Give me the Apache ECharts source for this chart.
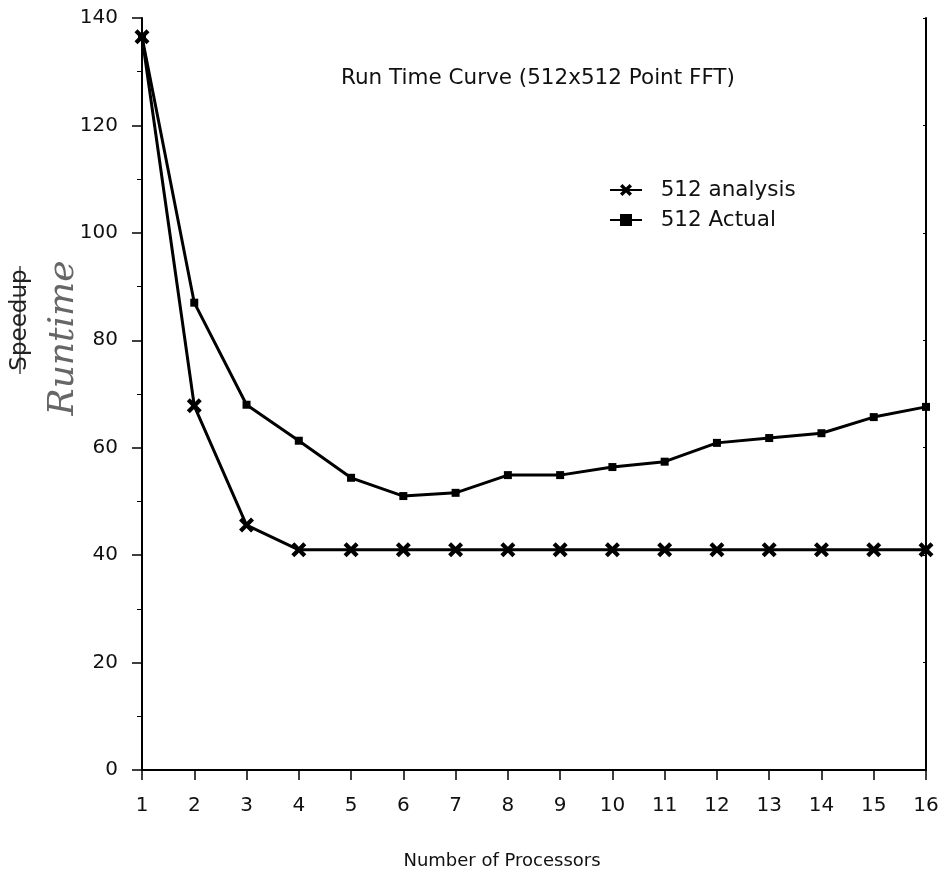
<!DOCTYPE html>
<html>
<head>
<meta charset="utf-8">
<title>Run Time Curve</title>
<script src="https://cdn.jsdelivr.net/npm/echarts@6/dist/echarts.min.js"></script>
<style>
  html, body { margin: 0; padding: 0; background: #fff; }
  #main { width: 945px; height: 890px; }
</style>
</head>
<body>
<div id="main"></div>
<script>
// number of processors
var processors = ['1','2','3','4','5','6','7','8','9','10','11','12','13','14','15','16'];
// run times
var analysis512 = [136.5, 67.8, 45.6, 41, 41, 41, 41, 41, 41, 41, 41, 41, 41, 41, 41, 41];
var actual512   = [136.5, 87, 68, 61.3, 54.4, 51, 51.6, 54.9, 54.9, 56.4, 57.4, 60.9, 61.8, 62.7, 65.7, 67.6];
var yTicks = { min: 0, max: 140, step: 20 };

var font = '"DejaVu Sans", Verdana, sans-serif';
var crossPath = 'path://M0,2 L2,0 L5,3 L8,0 L10,2 L7,5 L10,8 L8,10 L5,7 L2,10 L0,8 L3,5 Z';

var chart = echarts.init(document.getElementById('main'));
var option = {
    animation: false,
    backgroundColor: '#fff',
    title: {
        text: 'Run Time Curve (512x512 Point FFT)',
        left: 336, top: 62,
        textStyle: { fontFamily: font, fontSize: 21.5, fontWeight: 'normal', color: '#111' }
    },
    legend: {
        left: 604, top: 174,
        orient: 'vertical',
        itemWidth: 32, itemHeight: 15, itemGap: 8,
        formatter: '  {name}',
        textStyle: { fontFamily: font, fontSize: 21.5, color: '#111' },
        data: ['512 analysis', '512 Actual']
    },
    grid: { left: 142, right: 19, top: 18, bottom: 120 },
    xAxis: [{
        type: 'category',
        data: processors,
        boundaryGap: false,
        name: 'Number of Processors',
        nameLocation: 'middle',
        nameGap: 82,
        nameTextStyle: { fontFamily: font, fontSize: 18, color: '#111', padding: [0, 64, 0, 0] },
        axisLine: { lineStyle: { color: '#000', width: 2 } },
        axisTick: { show: true, length: 10, inside: false, lineStyle: { color: '#000', width: 1.5 } },
        axisLabel: { fontFamily: font, fontSize: 20, color: '#111', margin: 26, interval: 0 },
        splitLine: { show: false }
    }, {
        type: 'category',
        data: processors,
        boundaryGap: false,
        position: 'top',
        axisLine: { lineStyle: { color: '#000', width: 2 } },
        axisTick: { show: false },
        axisLabel: { show: false },
        splitLine: { show: false }
    }],
    yAxis: [{
        type: 'value',
        min: yTicks.min, max: yTicks.max, interval: yTicks.step,
        axisLine: { show: true, lineStyle: { color: '#000', width: 2 } },
        axisTick: { show: true, length: 10, lineStyle: { color: '#000', width: 1.5 } },
        minorTick: { show: true, splitNumber: 2, length: 5, lineStyle: { color: '#000', width: 1 } },
        axisLabel: { fontFamily: font, fontSize: 20, color: '#111', margin: 24 },
        splitLine: { show: false }
    }, {
        type: 'value',
        min: yTicks.min, max: yTicks.max, interval: yTicks.step,
        position: 'right',
        axisLine: { show: true, lineStyle: { color: '#000', width: 2 } },
        axisTick: { show: true, inside: true, length: 3, lineStyle: { color: '#000' } },
        axisLabel: { show: false },
        splitLine: { show: false }
    }],
    graphic: [
        // original axis title, struck through
        { type: 'text', x: 20, y: 320, rotation: Math.PI / 2,
          style: { text: 'Speedup', font: '23px "DejaVu Sans", sans-serif', fill: '#222',
                   textAlign: 'center', textVerticalAlign: 'middle' } },
        { type: 'line', shape: { x1: 20, y1: 266, x2: 20, y2: 374 }, style: { stroke: '#222', lineWidth: 1.3 } },
        // handwritten correction
        { type: 'text', x: 64, y: 338, rotation: Math.PI / 2,
          style: { text: 'Runtime', font: 'italic 36px "DejaVu Serif", serif', fill: '#666',
                   textAlign: 'center', textVerticalAlign: 'middle' } }
    ],
    series: [{
        name: '512 analysis',
        type: 'line',
        data: analysis512,
        symbol: crossPath,
        symbolSize: 15,
        showAllSymbol: true,
        lineStyle: { color: '#000', width: 3 },
        itemStyle: { color: '#000' },
        z: 3
    }, {
        name: '512 Actual',
        type: 'line',
        data: actual512,
        symbol: 'rect',
        symbolSize: 8,
        showAllSymbol: true,
        lineStyle: { color: '#000', width: 3 },
        itemStyle: { color: '#000' },
        z: 2
    }]
};
chart.setOption(option);
</script>
</body>
</html>
